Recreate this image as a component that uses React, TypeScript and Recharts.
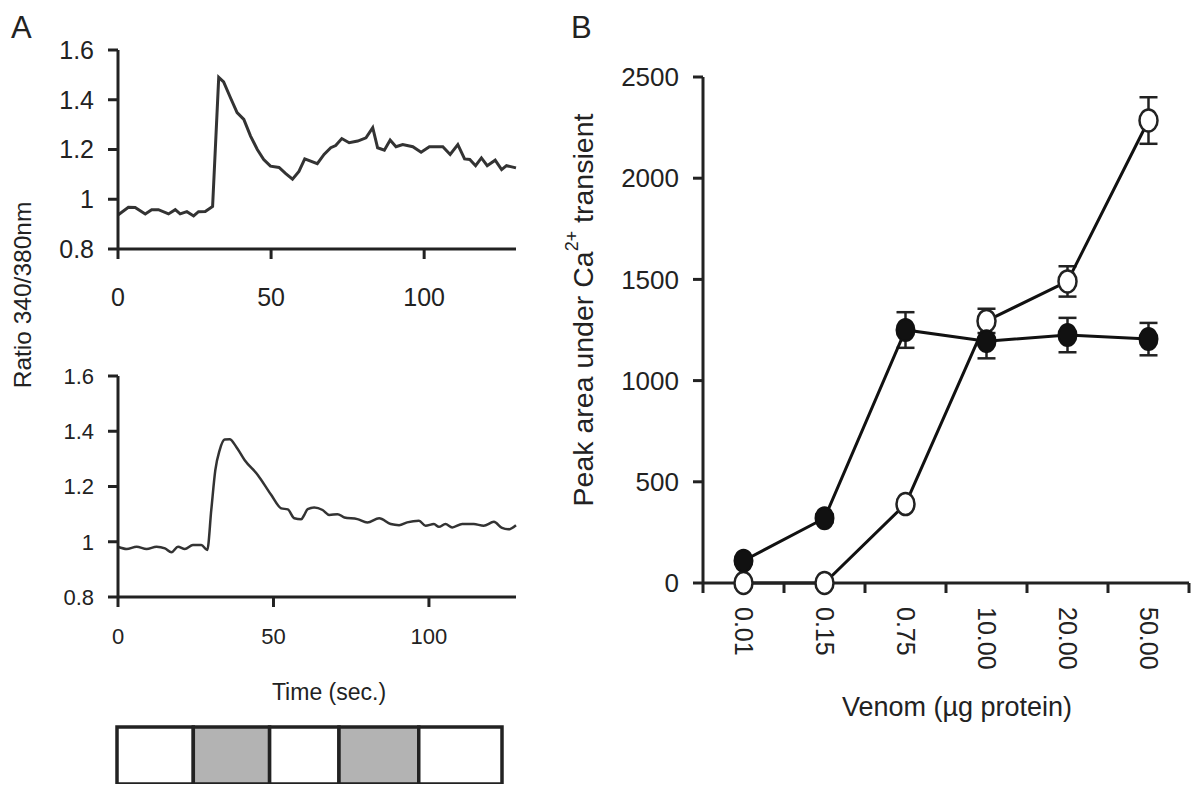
import React from 'react';
import { LineChart, Line, XAxis, YAxis, ErrorBar, BarChart, Bar } from 'recharts';

// ---------- Panel A, top trace ----------
const topTime = [0, 3.4, 5.6, 8.9, 11, 13.2, 16.5, 18.7, 20.3, 22.5, 24.7, 26.3, 28.5, 30.9, 32.9, 34.5, 36.7, 38.9, 41.1, 43.3, 45.5, 47.6, 49.8, 52.6, 54.8, 57, 59.1, 61, 65.1, 67.3, 69.5, 71.1, 73.1, 75.5, 78.3, 81, 83.2, 84.8, 87, 88.9, 90.8, 93, 96.3, 99, 101.7, 106.1, 108.5, 111, 113.2, 114.9, 116.8, 118.7, 120.6, 123.2, 125.3, 126.9, 128.6, 130];
const topRatio = [0.937, 0.968, 0.967, 0.941, 0.958, 0.958, 0.941, 0.958, 0.941, 0.95, 0.933, 0.95, 0.951, 0.971, 1.49, 1.472, 1.409, 1.348, 1.321, 1.254, 1.2, 1.16, 1.133, 1.128, 1.103, 1.081, 1.112, 1.162, 1.143, 1.18, 1.207, 1.216, 1.244, 1.227, 1.234, 1.247, 1.288, 1.207, 1.197, 1.238, 1.211, 1.22, 1.211, 1.189, 1.211, 1.211, 1.18, 1.22, 1.162, 1.16, 1.135, 1.166, 1.135, 1.157, 1.119, 1.135, 1.13, 1.126];

// ---------- Panel A, bottom trace ----------
const botTime = [0, 2.8, 6, 9.2, 12.4, 15.1, 17.2, 19.3, 21.5, 24.1, 26.8, 28.7, 30, 31.3, 32.7, 34.3, 35.9, 38, 40.7, 45, 49.3, 52.5, 54.6, 56.7, 58.9, 59.9, 61, 63.1, 65.8, 68, 70.6, 72.8, 77, 80.2, 84, 87.7, 90.4, 93, 96.8, 98.9, 101.6, 103.2, 105.3, 107.5, 110.7, 114.4, 117.6, 120.9, 123.5, 125.5, 128];
const botRatio = [0.982, 0.974, 0.982, 0.974, 0.982, 0.976, 0.962, 0.982, 0.974, 0.988, 0.988, 0.97, 1.115, 1.259, 1.332, 1.37, 1.371, 1.344, 1.296, 1.241, 1.169, 1.121, 1.117, 1.085, 1.081, 1.097, 1.118, 1.124, 1.115, 1.097, 1.1, 1.088, 1.082, 1.07, 1.085, 1.064, 1.06, 1.07, 1.076, 1.058, 1.064, 1.054, 1.064, 1.052, 1.064, 1.064, 1.058, 1.072, 1.05, 1.045, 1.06];

const ratioTicks = [0.8, 1, 1.2, 1.4, 1.6];
const timeTicks = [0, 50, 100];

// ---------- Stimulus protocol bar ----------
const stimDurations = [22, 22, 20, 23, 24];
const stimFills = ['#ffffff', '#b3b3b3', '#ffffff', '#b3b3b3', '#ffffff'];

// ---------- Panel B ----------
const venomDoses = ['0.01', '0.15', '0.75', '10.00', '20.00', '50.00'];
const filledValues = [110, 320, 1250, 1195, 1225, 1205];
const filledErrors = [15, 20, 88, 85, 85, 80];
const openValues = [0, 0, 390, 1295, 1490, 2285];
const openErrors = [0, 0, 20, 60, 75, 115];
const peakTicks = [0, 500, 1000, 1500, 2000, 2500];

const topData = topTime.map((t, i) => ({ t, v: topRatio[i] }));
const botData = botTime.map((t, i) => ({ t, v: botRatio[i] }));
const bData = venomDoses.map((d, i) => ({
  x: i + 0.5,
  dose: d,
  filled: filledValues[i],
  filledErr: filledErrors[i],
  open: openValues[i],
  openErr: openErrors[i],
}));
const bTicks: number[] = [];
for (let i = 0; i <= venomDoses.length * 2; i++) bTicks.push(i / 2);
const stimRow: any = { name: 'stim' };
stimDurations.forEach((d, i) => (stimRow['s' + i] = d));
const stimTotal = stimDurations.reduce((a, b) => a + b, 0);

const FONT = '"Liberation Sans", Arial, Helvetica, sans-serif';
const INK = '#222';
const fmtRatio = (v: number) => (v === 1 ? '1' : v.toFixed(1));
const axisStyle = { stroke: INK, strokeWidth: 3 };

const BTick = (props: any) => {
  const { x, y, payload } = props;
  const v = payload.value;
  if (Number.isInteger(v)) {
    return <line x1={x} y1={y - 10} x2={x} y2={y} stroke={INK} strokeWidth={3} />;
  }
  const idx = Math.floor(v);
  const ty = y + 14;
  return (
    <text
      x={x}
      y={ty}
      transform={`rotate(90 ${x} ${ty})`}
      textAnchor="start"
      dominantBaseline="central"
      fontFamily={FONT}
      fontSize={25}
      fill={INK}
    >
      {venomDoses[idx]}
    </text>
  );
};

const OpenDot = (p: any) =>
  p.cx == null ? null : (
    <ellipse key={p.key} cx={p.cx} cy={p.cy} rx={9} ry={11} fill="#fff" stroke={INK} strokeWidth={2.5} />
  );
const FilledDot = (p: any) =>
  p.cx == null ? null : (
    <ellipse key={p.key} cx={p.cx} cy={p.cy} rx={9} ry={11} fill="#111" stroke="#111" strokeWidth={2} />
  );

export default function App() {
  return (
    <div style={{ position: 'absolute', left: 0, top: 0, width: 1197, height: 785, background: '#fff', overflow: 'hidden' }}>
      {/* Panel A top */}
      <div style={{ position: 'absolute', left: 0, top: 0 }}>
        <LineChart width={600} height={330} data={topData} margin={{ top: 50, right: 84, left: 58, bottom: 21 }}>
          <XAxis
            dataKey="t"
            type="number"
            domain={[0, 130]}
            ticks={timeTicks}
            interval={0}
            height={60}
            axisLine={axisStyle}
            tickLine={axisStyle}
            tickSize={10}
            tickMargin={29}
            tick={{ fill: INK, fontSize: 25, fontFamily: FONT }}
          />
          <YAxis
            type="number"
            domain={[0.8, 1.6]}
            ticks={ratioTicks}
            interval={0}
            width={60}
            axisLine={axisStyle}
            tickLine={axisStyle}
            tickSize={10}
            tickMargin={14}
            tickFormatter={fmtRatio}
            tick={{ fill: INK, fontSize: 25, fontFamily: FONT }}
          />
          <Line dataKey="v" type="linear" stroke="#333" strokeWidth={3} dot={false} isAnimationActive={false} />
        </LineChart>
      </div>

      {/* Panel A bottom */}
      <div style={{ position: 'absolute', left: 0, top: 340 }}>
        <LineChart width={600} height={380} data={botData} margin={{ top: 36, right: 84, left: 58, bottom: 23 }}>
          <XAxis
            dataKey="t"
            type="number"
            domain={[0, 128]}
            ticks={timeTicks}
            interval={0}
            height={100}
            axisLine={axisStyle}
            tickLine={axisStyle}
            tickSize={10}
            tickMargin={21}
            tick={{ fill: INK, fontSize: 22, fontFamily: FONT }}
            label={{
              content: () => (
                <text x={329} y={360} textAnchor="middle" fontFamily={FONT} fontSize={23} fill={INK}>
                  Time (sec.)
                </text>
              ),
            }}
          />
          <YAxis
            type="number"
            domain={[0.8, 1.6]}
            ticks={ratioTicks}
            interval={0}
            width={60}
            axisLine={axisStyle}
            tickLine={axisStyle}
            tickSize={10}
            tickMargin={14}
            tickFormatter={fmtRatio}
            tick={{ fill: INK, fontSize: 22, fontFamily: FONT }}
          />
          <Line dataKey="v" type="monotone" stroke="#333" strokeWidth={2.5} dot={false} isAnimationActive={false} />
        </LineChart>
      </div>

      {/* Stimulus protocol bar */}
      <div style={{ position: 'absolute', left: 115, top: 725 }}>
        <BarChart
          layout="vertical"
          width={389}
          height={59}
          data={[stimRow]}
          margin={{ top: 2, right: 2, left: 2, bottom: 0 }}
          barCategoryGap={0}
        >
          <XAxis type="number" hide domain={[0, stimTotal]} />
          <YAxis type="category" dataKey="name" hide />
          {stimDurations.map((_, i) => (
            <Bar
              key={i}
              dataKey={'s' + i}
              stackId="stim"
              fill={stimFills[i]}
              stroke={INK}
              strokeWidth={3.5}
              isAnimationActive={false}
            />
          ))}
        </BarChart>
      </div>

      {/* Panel B */}
      <div style={{ position: 'absolute', left: 560, top: 0 }}>
        <LineChart width={637} height={785} data={bData} margin={{ top: 77, right: 8, left: 43, bottom: 52 }}>
          <XAxis
            dataKey="x"
            type="number"
            domain={[0, venomDoses.length]}
            ticks={bTicks}
            interval={0}
            height={150}
            axisLine={axisStyle}
            tickLine={false}
            tickSize={10}
            tickMargin={0}
            tick={<BTick />}
            label={{
              content: () => (
                <text x={397} y={716} textAnchor="middle" fontFamily={FONT} fontSize={27} fill={INK}>
                  Venom (µg protein)
                </text>
              ),
            }}
          />
          <YAxis
            type="number"
            domain={[0, 2500]}
            ticks={peakTicks}
            interval={0}
            width={100}
            axisLine={axisStyle}
            tickLine={axisStyle}
            tickSize={10}
            tickMargin={14}
            tick={{ fill: INK, fontSize: 26, fontFamily: FONT }}
            label={{
              content: () => (
                <text
                  x={23}
                  y={310}
                  transform="rotate(-90 23 310)"
                  textAnchor="middle"
                  dominantBaseline="central"
                  fontFamily={FONT}
                  fontSize={28.5}
                  fill={INK}
                >
                  <tspan>Peak area under Ca</tspan>
                  <tspan dy={-11} fontSize={18}>2+</tspan>
                  <tspan dy={11}> transient</tspan>
                </text>
              ),
            }}
          />
          <Line
            dataKey="open"
            type="linear"
            stroke="#111"
            strokeWidth={3}
            dot={OpenDot}
            isAnimationActive={false}
          >
            <ErrorBar dataKey="openErr" width={9} strokeWidth={2.5} stroke={INK} direction="y" />
          </Line>
          <Line
            dataKey="filled"
            type="linear"
            stroke="#111"
            strokeWidth={3}
            dot={FilledDot}
            isAnimationActive={false}
          >
            <ErrorBar dataKey="filledErr" width={9} strokeWidth={2.5} stroke={INK} direction="y" />
          </Line>
        </LineChart>
      </div>

      {/* Free labels */}
      <svg width={1197} height={785} style={{ position: 'absolute', left: 0, top: 0, pointerEvents: 'none' }}>
        <text x={11} y={38} fontFamily={FONT} fontSize={31} fill={INK}>A</text>
        <text x={571} y={38} fontFamily={FONT} fontSize={31} fill={INK}>B</text>
        <text
          x={22}
          y={295}
          transform="rotate(-90 22 295)"
          textAnchor="middle"
          dominantBaseline="central"
          fontFamily={FONT}
          fontSize={24.5}
          fill={INK}
        >
          Ratio 340/380nm
        </text>
      </svg>
    </div>
  );
}
